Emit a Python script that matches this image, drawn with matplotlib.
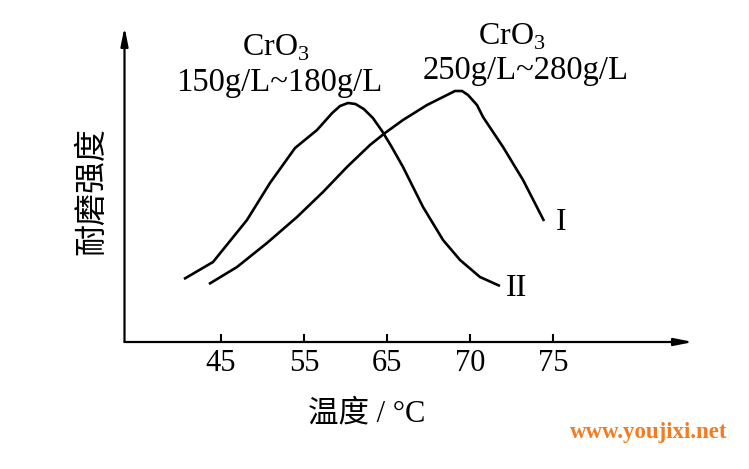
import matplotlib
matplotlib.use("Agg")
import matplotlib.pyplot as plt

plt.rcParams['font.family'] = ['Liberation Serif', 'Noto Sans CJK SC', 'DejaVu Sans']
plt.rcParams['mathtext.fontset'] = 'custom'
plt.rcParams['mathtext.rm'] = 'Liberation Serif'

# x positions are in tick-slot units (tick i -> label i), y is arbitrary strength
tick_labels = ['45', '55', '65', '70', '75']

x_I = [-0.145, 0.193, 0.554, 0.916, 1.229, 1.518, 1.795, 1.976, 2.193, 2.482,
       2.723, 2.819, 2.904, 2.976, 3.084, 3.157, 3.398, 3.639, 3.892]
y_I = [58, 75, 99, 125, 150, 175, 197, 209, 222, 237,
       247, 251, 251, 247, 237, 225, 195, 162, 121]

x_II = [-0.446, -0.096, 0.313, 0.590, 0.892, 1.157, 1.340, 1.434, 1.530, 1.620,
        1.720, 1.830, 1.940, 2.050, 2.193, 2.434, 2.675, 2.880, 3.120, 3.361]
y_II = [63, 80, 122, 159, 194, 212, 229, 236, 239, 238,
        233, 224, 211, 196, 175, 135, 102, 82, 65, 56]

fig = plt.figure(figsize=(7.49, 4.69), dpi=100)
ax = fig.add_axes([124.5 / 749, 127 / 469, (693 - 124.5) / 749, 315 / 469])
ax.set_xlim((124.5 - 221) / 83, (693 - 221) / 83)
ax.set_ylim(0, 315)

ax.plot(x_I, y_I, color='black', lw=1.9, solid_capstyle='butt', solid_joinstyle='round')
ax.plot(x_II, y_II, color='black', lw=1.9, solid_capstyle='butt', solid_joinstyle='round')

for s in ax.spines.values():
    s.set_visible(False)

arrow = dict(arrowstyle='-|>,head_length=1.1,head_width=0.22', color='black',
             lw=1.6, shrinkA=0, shrinkB=0)
ax.annotate('', xy=(1, 0), xytext=(0, 0), xycoords='axes fraction', arrowprops=arrow)
ax.annotate('', xy=(0, 1), xytext=(0, 0), xycoords='axes fraction', arrowprops=arrow)

ax.set_xticks(range(len(tick_labels)))
ax.set_xticklabels(tick_labels, fontsize=22)
ax.set_yticks([])
ax.tick_params(axis='x', direction='in', length=6, width=1.5, pad=5)

ax.set_xlabel('温度 / °C', fontsize=22)
ax.xaxis.set_label_coords((366.5 - 124.5) / 568.5, (342 - 414) / 315)
ax.xaxis.label.set_va('center')
ax.set_ylabel('耐磨强度', fontsize=23)
ax.yaxis.set_label_coords((92 - 124.5) / 568.5, (342 - 191) / 315)
ax.yaxis.label.set_va('center')

ax.text(0.66, 294, 'CrO$_\\mathrm{3}$', fontsize=23, ha='center', va='center')
ax.text(0.70, 259, '150g/L~180g/L', fontsize=23.5, ha='center', va='center')
ax.text(3.50, 305, 'CrO$_\\mathrm{3}$', fontsize=23, ha='center', va='center')
ax.text(3.675, 271, '250g/L~280g/L', fontsize=23.5, ha='center', va='center')

ax.text(4.1, 120, 'I', fontsize=23, ha='center', va='center')
ax.text(3.56, 54, 'II', fontsize=23, ha='center', va='center')

fig.text(649 / 749, 1 - 432 / 469, 'www.youjixi.net', fontsize=16.5, fontweight='bold',
         color='#f47b20', ha='center', va='center')

fig.savefig('out.png', dpi=100)
